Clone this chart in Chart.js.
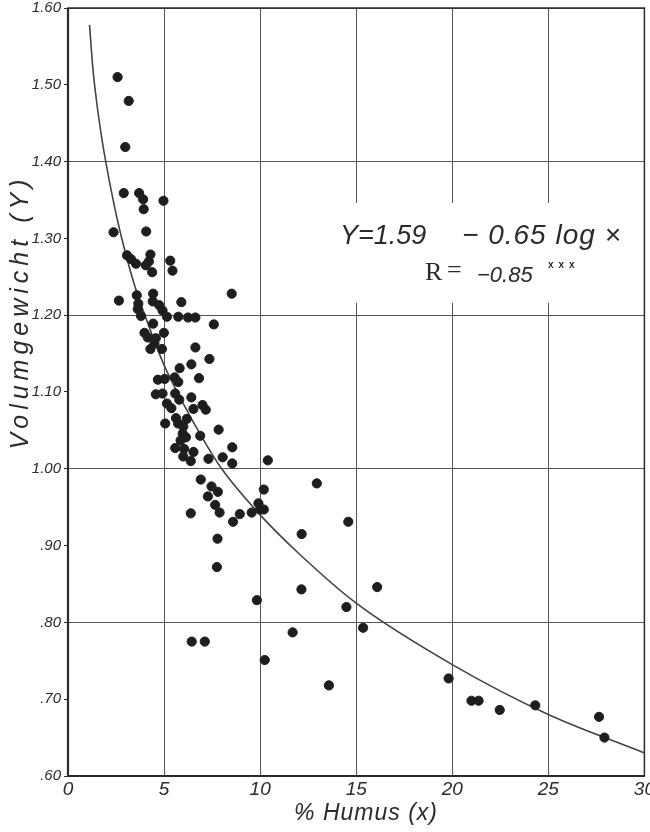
<!DOCTYPE html>
<html>
<head>
<meta charset="utf-8">
<script src="https://cdn.jsdelivr.net/npm/chart.js@4"></script>
<style>
  html, body { margin: 0; padding: 0; background: #fff; }
  #wrap { width: 650px; height: 832px; }
</style>
</head>
<body>
<div id="wrap"><canvas id="humusChart" width="650" height="832"></canvas></div>
<script>
// Samples: % humus (x) and volume weight (Y)
const humusX = [
  2.58, 3.16, 2.98, 2.90, 3.70, 3.91, 3.94, 4.97, 2.37, 4.07,
  3.07, 3.28, 3.54, 4.05, 4.29, 4.21, 4.38, 5.32, 5.44, 2.65,
  3.58, 3.66, 3.63, 3.80, 4.43, 4.41, 4.75, 4.92, 5.15, 5.74,
  5.90, 6.25, 6.63, 8.52, 7.59, 3.98, 4.43, 4.15, 4.57, 4.99,
  4.29, 4.50, 4.89, 6.63, 6.42, 5.81, 7.36, 6.82, 4.68, 5.03,
  5.55, 5.74, 4.57, 4.92, 5.15, 5.58, 5.79, 5.38, 6.42, 6.53,
  7.00, 7.17, 5.06, 5.62, 5.73, 6.00, 6.18, 5.97, 6.14, 5.86,
  5.58, 6.04, 6.53, 6.00, 6.39, 6.88, 7.84, 7.31, 8.05, 8.55,
  8.55, 10.40, 6.91, 7.47, 7.28, 7.80, 7.66, 7.89, 6.39, 8.59,
  8.94, 9.56, 9.91, 10.19, 10.00, 10.19, 12.95, 14.59, 12.16, 7.78,
  7.75, 9.83, 12.15, 14.49, 6.44, 7.12, 11.69, 10.24, 13.58, 15.36,
  16.09, 19.81, 21.00, 21.37, 22.47, 24.32, 27.64, 27.92
];
const volumY = [
  1.510, 1.479, 1.419, 1.359, 1.359, 1.351, 1.338, 1.349, 1.308, 1.309,
  1.278, 1.273, 1.267, 1.265, 1.279, 1.270, 1.256, 1.271, 1.258, 1.219,
  1.226, 1.215, 1.208, 1.199, 1.228, 1.218, 1.213, 1.206, 1.198, 1.198,
  1.217, 1.197, 1.197, 1.228, 1.188, 1.177, 1.189, 1.171, 1.170, 1.177,
  1.156, 1.163, 1.156, 1.158, 1.136, 1.131, 1.143, 1.118, 1.116, 1.117,
  1.119, 1.113, 1.097, 1.098, 1.085, 1.098, 1.090, 1.079, 1.093, 1.078,
  1.083, 1.077, 1.059, 1.066, 1.059, 1.055, 1.065, 1.046, 1.041, 1.037,
  1.027, 1.026, 1.022, 1.016, 1.010, 1.043, 1.051, 1.013, 1.015, 1.028,
  1.007, 1.011, 0.986, 0.977, 0.964, 0.970, 0.953, 0.943, 0.942, 0.931,
  0.941, 0.943, 0.955, 0.973, 0.947, 0.947, 0.981, 0.931, 0.915, 0.909,
  0.872, 0.829, 0.843, 0.820, 0.775, 0.775, 0.787, 0.751, 0.718, 0.793,
  0.846, 0.727, 0.698, 0.698, 0.686, 0.692, 0.677, 0.650
];

// Regression curve as drawn: Y = 1.59 - 0.65 log x
const curveX = [1.12, 1.3, 1.5, 1.75, 2, 2.5, 3, 3.5, 4, 5, 6, 7, 8, 10, 12, 15, 20, 25, 30];
const curveY = [1.578, 1.52, 1.476, 1.432, 1.395, 1.332, 1.28, 1.236, 1.20, 1.135, 1.085, 1.04, 1.00, 0.94, 0.89, 0.825, 0.745, 0.68, 0.63];

const xTicks = ['0', '5', '10', '15', '20', '25', '30'];
const yTickLabels = ['.60', '.70', '.80', '.90', '1.00', '1.10', '1.20', '1.30', '1.40', '1.50', '1.60'];

const ink = '#2b2b2b';
const handFont = '"Liberation Sans Narrow", "Liberation Sans", sans-serif';

const points = humusX.map((x, i) => ({ x: x, y: volumY[i] }));
const curve = curveX.map((x, i) => ({ x: x, y: curveY[i] }));

// frame, axis titles and the equation box
const paperPlugin = {
  id: 'paper',
  beforeDatasetsDraw(chart) {
    const ctx = chart.ctx;
    ctx.save();
    // white patch behind the equation (grid lines are broken there)
    ctx.fillStyle = '#fff';
    ctx.fillRect(328, 203, 300, 100);
    ctx.restore();
  },
  afterDraw(chart) {
    const { ctx, chartArea: a } = chart;
    ctx.save();
    ctx.strokeStyle = ink;
    ctx.lineWidth = 1.5;
    ctx.strokeRect(a.left, a.top, a.right - a.left, a.bottom - a.top);
    ctx.lineWidth = 2.2;
    ctx.beginPath();
    ctx.moveTo(a.left, a.top);
    ctx.lineTo(a.left, a.bottom);
    ctx.lineTo(a.right, a.bottom);
    ctx.stroke();

    ctx.fillStyle = ink;
    // x axis title
    ctx.font = 'italic 23px ' + handFont;
    ctx.textAlign = 'center';
    ctx.textBaseline = 'middle';
    ctx.letterSpacing = '1px';
    ctx.fillText('% Humus (x)', 366, 814);

    // y axis title
    ctx.save();
    ctx.translate(21, 312);
    ctx.rotate(-Math.PI / 2);
    ctx.font = 'italic 25px ' + handFont;
    ctx.letterSpacing = '5px';
    ctx.fillText('Volumgewicht (Y)', 0, 0);
    ctx.restore();

    // equation
    ctx.letterSpacing = '0px';
    ctx.textAlign = 'left';
    ctx.textBaseline = 'alphabetic';
    ctx.font = 'italic 27px ' + handFont;
    ctx.fillText('Y=1.59', 340, 244);
    ctx.letterSpacing = '1px';
    ctx.font = 'italic 28px ' + handFont;
    ctx.fillText('\u2212 0.65 log \u00d7', 462, 244);
    ctx.letterSpacing = '0px';
    ctx.font = '26px "Liberation Serif", serif';
    ctx.fillText('R', 425, 280);
    ctx.fillText('=', 447, 278);
    ctx.font = 'italic 22px ' + handFont;
    ctx.fillText('\u22120.85', 477, 282);
    ctx.font = 'bold 10px ' + handFont;
    ctx.letterSpacing = '5px';
    ctx.fillText('xxx', 548, 268);
    ctx.restore();
  }
};

new Chart(document.getElementById('humusChart'), {
  type: 'scatter',
  data: {
    datasets: [
      {
        label: 'Proben',
        data: points,
        backgroundColor: '#1e1e1e',
        borderColor: '#1e1e1e',
        pointRadius: 4.6,
        pointHoverRadius: 4.6,
        order: 1
      },
      {
        label: 'Y = 1.59 - 0.65 log x',
        data: curve,
        showLine: true,
        borderColor: '#444',
        borderWidth: 1.6,
        pointRadius: 0,
        cubicInterpolationMode: 'monotone',
        fill: false,
        order: 2
      }
    ]
  },
  options: {
    responsive: false,
    animation: false,
    layout: { padding: { top: 8, right: 3, left: 0, bottom: 0 } },
    plugins: {
      legend: { display: false },
      tooltip: { enabled: false }
    },
    scales: {
      x: {
        type: 'linear',
        min: 0,
        max: 30,
        afterFit: (s) => { s.height = 56; s.paddingLeft = 0; s.paddingRight = 0; },
        ticks: {
          stepSize: 5,
          color: ink,
          padding: 2,
          maxRotation: 0,
          font: { family: handFont, size: 19, style: 'italic' },
          callback: (v, i) => xTicks[i]
        },
        grid: {
          color: '#555',
          lineWidth: 1,
          drawTicks: false
        },
        border: { display: false }
      },
      y: {
        type: 'linear',
        min: 0.6,
        max: 1.6,
        afterFit: (s) => { s.width = 68; s.paddingTop = 0; s.paddingBottom = 0; },
        ticks: {
          stepSize: 0.1,
          color: ink,
          padding: 3,
          font: { family: handFont, size: 15, style: 'italic' },
          callback: (v, i) => yTickLabels[i]
        },
        grid: {
          color: (c) => (c.index % 2 === 0 ? '#555' : 'rgba(0,0,0,0)'),
          tickColor: ink,
          tickLength: 4,
          lineWidth: 1
        },
        border: { display: false }
      }
    }
  },
  plugins: [paperPlugin]
});
</script>
</body>
</html>
